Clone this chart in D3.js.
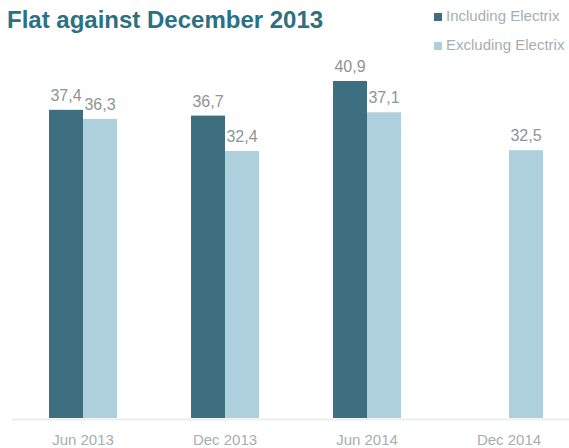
<!DOCTYPE html>
<html>
<head>
  <meta charset="utf-8">
  <script src="https://d3js.org/d3.v7.min.js"></script>
  <style>
    body { margin: 0; background: #fff; }
    svg text { font-family: Arial, "Liberation Sans", Helvetica, sans-serif; }
  </style>
</head>
<body>
  <svg id="chart" width="569" height="448"></svg>
  <script>
    const periods = ["Jun 2013", "Dec 2013", "Jun 2014", "Dec 2014"];
    const seriesNames = ["Including Electrix", "Excluding Electrix"];
    const including = [37.4, 36.7, 40.9, null];
    const excluding = [36.3, 32.4, 37.1, 32.5];
    const colors = ["#3e6f80", "#aed0dc"];

    const svg = d3.select("#chart");
    const fmt = v => d3.format(".1f")(v).replace(".", ",");

    // title
    svg.append("text")
      .attr("x", 7).attr("y", 28)
      .attr("fill", "#2b7083")
      .style("font-size", "24px")
      .style("font-weight", "bold")
      .text("Flat against December 2013");

    // legend
    seriesNames.forEach((name, i) => {
      svg.append("rect")
        .attr("x", 434).attr("y", 13 + i * 29)
        .attr("width", 8).attr("height", 8)
        .attr("fill", colors[i]);
      svg.append("text")
        .attr("x", 446).attr("y", 21 + i * 29)
        .attr("fill", "#a6aeb1")
        .style("font-size", "15px")
        .text(name);
    });

    const baseY = 418;
    const x = d3.scaleBand().domain(periods).range([12, 580]).paddingInner(0).paddingOuter(0);
    const sub = d3.scaleBand().domain(seriesNames).range([-34, 34]);
    const y = d3.scaleLinear().domain([0, 50]).range([baseY, baseY - 412]);

    const data = [];
    periods.forEach((p, i) => {
      [including[i], excluding[i]].forEach((v, j) => {
        if (v != null) data.push({ period: p, series: seriesNames[j], value: v, idx: j });
      });
    });

    const center = p => x(p) + x.bandwidth() / 2;

    // axis line
    svg.append("line")
      .attr("x1", 12).attr("x2", 569)
      .attr("y1", baseY + 1.5).attr("y2", baseY + 1.5)
      .attr("stroke", "#eceff0").attr("stroke-width", 2);

    svg.selectAll("rect.bar").data(data).join("rect")
      .attr("class", "bar")
      .attr("x", d => center(d.period) + sub(d.series))
      .attr("y", d => y(d.value))
      .attr("width", sub.bandwidth())
      .attr("height", d => baseY - y(d.value))
      .attr("fill", d => colors[d.idx]);

    svg.selectAll("text.val").data(data).join("text")
      .attr("class", "val")
      .attr("x", d => center(d.period) + sub(d.series) + sub.bandwidth() / 2)
      .attr("y", d => y(d.value) - 9)
      .attr("text-anchor", "middle")
      .attr("fill", "#8c9598")
      .style("font-size", "16px")
      .text(d => fmt(d.value));

    // x axis labels
    const xAxis = d3.axisBottom(x).tickSize(0).tickPadding(0);
    const g = svg.append("g").attr("transform", `translate(0,${baseY + 2})`).call(xAxis);
    g.select(".domain").remove();
    g.selectAll("text")
      .attr("y", 25)
      .attr("dy", 0)
      .attr("fill", "#a6aeb1")
      .style("font-size", "15px")
      .style("font-family", "Arial, 'Liberation Sans', sans-serif");
  </script>
</body>
</html>
